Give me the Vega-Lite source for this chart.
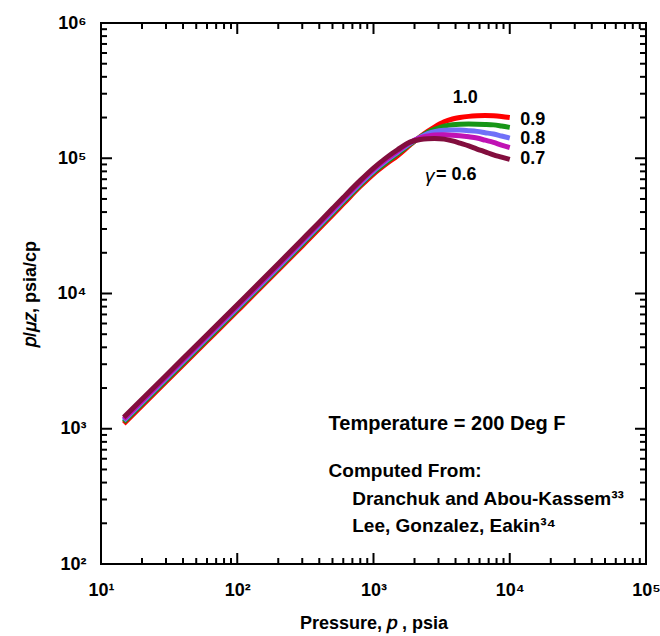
{
"$schema": "https://vega.github.io/schema/vega-lite/v6.json",
"width": 545, "height": 541,
"autosize": {"type": "none"},
"padding": {"left": 101, "top": 23, "right": 14, "bottom": 72},
"background": "white",
"config": {
 "view": {"stroke": "black", "strokeWidth": 2, "fill": null},
 "font": "Liberation Sans",
 "axis": {"ticks": false, "tickSize": 0, "domain": false, "grid": false, "labelFont": "Liberation Sans", "labelFontWeight": "bold", "labelFontSize": 18, "labelColor": "black", "titleFont": "Liberation Sans", "titleFontWeight": "bold", "titleFontSize": 18, "titleColor": "black", "labelOverlap": false, "labelFlush": false}
},
"datasets": {
 "xmaj": [{"t":10},{"t":100},{"t":1000},{"t":10000},{"t":100000}],
 "xmin": [{"t":20},{"t":30},{"t":40},{"t":50},{"t":60},{"t":70},{"t":80},{"t":90},{"t":200},{"t":300},{"t":400},{"t":500},{"t":600},{"t":700},{"t":800},{"t":900},{"t":2000},{"t":3000},{"t":4000},{"t":5000},{"t":6000},{"t":7000},{"t":8000},{"t":9000},{"t":20000},{"t":30000},{"t":40000},{"t":50000},{"t":60000},{"t":70000},{"t":80000},{"t":90000}],
 "ymaj": [{"t":100},{"t":1000},{"t":10000},{"t":100000},{"t":1000000}],
 "ymin": [{"t":200},{"t":300},{"t":400},{"t":500},{"t":600},{"t":700},{"t":800},{"t":900},{"t":2000},{"t":3000},{"t":4000},{"t":5000},{"t":6000},{"t":7000},{"t":8000},{"t":9000},{"t":20000},{"t":30000},{"t":40000},{"t":50000},{"t":60000},{"t":70000},{"t":80000},{"t":90000},{"t":200000},{"t":300000},{"t":400000},{"t":500000},{"t":600000},{"t":700000},{"t":800000},{"t":900000}],
 "curves": [
{"g":"1.0","p":14.7,"v":1090},{"g":"1.0","p":30,"v":2225},{"g":"1.0","p":60,"v":4450},{"g":"1.0","p":100,"v":7420},{"g":"1.0","p":200,"v":14900},{"g":"1.0","p":300,"v":22500},{"g":"1.0","p":400,"v":30200},{"g":"1.0","p":500,"v":38100},{"g":"1.0","p":600,"v":46000},{"g":"1.0","p":800,"v":62000},{"g":"1.0","p":1000,"v":76500},{"g":"1.0","p":1250,"v":91500},{"g":"1.0","p":1500,"v":104500},{"g":"1.0","p":1850,"v":125000},{"g":"1.0","p":2200,"v":144000},{"g":"1.0","p":2500,"v":158000},{"g":"1.0","p":2800,"v":170000},{"g":"1.0","p":3300,"v":186000},{"g":"1.0","p":3800,"v":195000},{"g":"1.0","p":4300,"v":200000},{"g":"1.0","p":5000,"v":204000},{"g":"1.0","p":5750,"v":206000},{"g":"1.0","p":6600,"v":207000},{"g":"1.0","p":7600,"v":206000},{"g":"1.0","p":8700,"v":203500},{"g":"1.0","p":10000,"v":200000},
{"g":"0.9","p":14.7,"v":1120},{"g":"0.9","p":30,"v":2285},{"g":"0.9","p":60,"v":4570},{"g":"0.9","p":100,"v":7620},{"g":"0.9","p":200,"v":15300},{"g":"0.9","p":300,"v":23150},{"g":"0.9","p":400,"v":31100},{"g":"0.9","p":500,"v":39200},{"g":"0.9","p":600,"v":47400},{"g":"0.9","p":800,"v":63600},{"g":"0.9","p":1000,"v":78500},{"g":"0.9","p":1250,"v":94000},{"g":"0.9","p":1500,"v":107800},{"g":"0.9","p":1850,"v":127000},{"g":"0.9","p":2200,"v":143500},{"g":"0.9","p":2500,"v":155000},{"g":"0.9","p":2800,"v":163500},{"g":"0.9","p":3300,"v":173000},{"g":"0.9","p":3800,"v":177000},{"g":"0.9","p":4300,"v":178500},{"g":"0.9","p":5000,"v":179000},{"g":"0.9","p":5750,"v":178700},{"g":"0.9","p":6600,"v":178000},{"g":"0.9","p":7600,"v":176500},{"g":"0.9","p":8700,"v":173000},{"g":"0.9","p":10000,"v":169000},
{"g":"0.8","p":14.7,"v":1150},{"g":"0.8","p":30,"v":2350},{"g":"0.8","p":60,"v":4700},{"g":"0.8","p":100,"v":7830},{"g":"0.8","p":200,"v":15720},{"g":"0.8","p":300,"v":23850},{"g":"0.8","p":400,"v":32000},{"g":"0.8","p":500,"v":40300},{"g":"0.8","p":600,"v":48700},{"g":"0.8","p":800,"v":65200},{"g":"0.8","p":1000,"v":80500},{"g":"0.8","p":1250,"v":96500},{"g":"0.8","p":1500,"v":110500},{"g":"0.8","p":1850,"v":129000},{"g":"0.8","p":2200,"v":143000},{"g":"0.8","p":2500,"v":152000},{"g":"0.8","p":2800,"v":157000},{"g":"0.8","p":3300,"v":161000},{"g":"0.8","p":3800,"v":162000},{"g":"0.8","p":4300,"v":161500},{"g":"0.8","p":5000,"v":160000},{"g":"0.8","p":5750,"v":158000},{"g":"0.8","p":6600,"v":154500},{"g":"0.8","p":7600,"v":151000},{"g":"0.8","p":8700,"v":146000},{"g":"0.8","p":10000,"v":141000},
{"g":"0.7","p":14.7,"v":1182},{"g":"0.7","p":30,"v":2415},{"g":"0.7","p":60,"v":4830},{"g":"0.7","p":100,"v":8050},{"g":"0.7","p":200,"v":16150},{"g":"0.7","p":300,"v":24500},{"g":"0.7","p":400,"v":32900},{"g":"0.7","p":500,"v":41400},{"g":"0.7","p":600,"v":50000},{"g":"0.7","p":800,"v":66900},{"g":"0.7","p":1000,"v":82600},{"g":"0.7","p":1250,"v":99000},{"g":"0.7","p":1500,"v":113000},{"g":"0.7","p":1850,"v":130500},{"g":"0.7","p":2200,"v":141500},{"g":"0.7","p":2500,"v":146000},{"g":"0.7","p":2800,"v":148500},{"g":"0.7","p":3300,"v":149000},{"g":"0.7","p":3800,"v":148000},{"g":"0.7","p":4300,"v":146500},{"g":"0.7","p":5000,"v":144000},{"g":"0.7","p":5750,"v":141000},{"g":"0.7","p":6600,"v":136000},{"g":"0.7","p":7600,"v":131000},{"g":"0.7","p":8700,"v":125000},{"g":"0.7","p":10000,"v":120000},
{"g":"0.6","p":14.7,"v":1215},{"g":"0.6","p":30,"v":2480},{"g":"0.6","p":60,"v":4960},{"g":"0.6","p":100,"v":8270},{"g":"0.6","p":200,"v":16600},{"g":"0.6","p":300,"v":25100},{"g":"0.6","p":400,"v":33700},{"g":"0.6","p":500,"v":42500},{"g":"0.6","p":600,"v":51300},{"g":"0.6","p":800,"v":68600},{"g":"0.6","p":1000,"v":84600},{"g":"0.6","p":1250,"v":101500},{"g":"0.6","p":1500,"v":115500},{"g":"0.6","p":1850,"v":131500},{"g":"0.6","p":2200,"v":137500},{"g":"0.6","p":2500,"v":139500},{"g":"0.6","p":2800,"v":140000},{"g":"0.6","p":3300,"v":138500},{"g":"0.6","p":3800,"v":134500},{"g":"0.6","p":4300,"v":129500},{"g":"0.6","p":5000,"v":123500},{"g":"0.6","p":5750,"v":117000},{"g":"0.6","p":6600,"v":111500},{"g":"0.6","p":7600,"v":106000},{"g":"0.6","p":8700,"v":102000},{"g":"0.6","p":10000,"v":98000}
 ]
},
"layer": [
 {"data": {"name": "curves"},
  "mark": {"type": "line", "strokeWidth": 5, "interpolate": "monotone"},
  "encoding": {
   "x": {"field": "p", "type": "quantitative", "scale": {"type": "log", "domain": [10, 100000], "nice": false},
     "axis": {"orient": "bottom", "values": [10, 100, 1000, 10000, 100000], "labelPadding": 17, "labelExpr": "'10' + ['⁰','¹','²','³','⁴','⁵','⁶'][round(log(datum.value)/LN10)]", "title": "Pressure, 𝑝 , psia", "titlePadding": 15}},
   "y": {"field": "v", "type": "quantitative", "scale": {"type": "log", "domain": [100, 1000000], "nice": false},
     "axis": {"orient": "left", "values": [100, 1000, 10000, 100000, 1000000], "labelPadding": 15, "labelExpr": "'10' + ['⁰','¹','²','³','⁴','⁵','⁶'][round(log(datum.value)/LN10)]", "title": "𝑝/𝜇𝑧, psia/cp", "titlePadding": 18}},
   "color": {"field": "g", "type": "nominal", "legend": null, "sort": null,
     "scale": {"domain": ["1.0", "0.9", "0.8", "0.7", "0.6"], "range": ["#ff0000", "#179617", "#7070f8", "#c012b4", "#820e3e"]}}
  }},
 {"data": {"name": "xmaj"}, "mark": {"type": "tick", "orient": "vertical", "size": 22, "thickness": 2, "color": "black", "opacity": 1, "clip": true},
  "encoding": {"x": {"field": "t", "type": "quantitative"}, "y": {"datum": 100, "type": "quantitative"}}},
 {"data": {"name": "xmaj"}, "mark": {"type": "tick", "orient": "vertical", "size": 22, "thickness": 2, "color": "black", "opacity": 1, "clip": true},
  "encoding": {"x": {"field": "t", "type": "quantitative"}, "y": {"datum": 1000000, "type": "quantitative"}}},
 {"data": {"name": "xmin"}, "mark": {"type": "tick", "orient": "vertical", "size": 12, "thickness": 2, "color": "black", "opacity": 1, "clip": true},
  "encoding": {"x": {"field": "t", "type": "quantitative"}, "y": {"datum": 100, "type": "quantitative"}}},
 {"data": {"name": "xmin"}, "mark": {"type": "tick", "orient": "vertical", "size": 12, "thickness": 2, "color": "black", "opacity": 1, "clip": true},
  "encoding": {"x": {"field": "t", "type": "quantitative"}, "y": {"datum": 1000000, "type": "quantitative"}}},
 {"data": {"name": "ymaj"}, "mark": {"type": "tick", "orient": "horizontal", "size": 22, "thickness": 2, "color": "black", "opacity": 1, "clip": true},
  "encoding": {"y": {"field": "t", "type": "quantitative"}, "x": {"datum": 10, "type": "quantitative"}}},
 {"data": {"name": "ymaj"}, "mark": {"type": "tick", "orient": "horizontal", "size": 22, "thickness": 2, "color": "black", "opacity": 1, "clip": true},
  "encoding": {"y": {"field": "t", "type": "quantitative"}, "x": {"datum": 100000, "type": "quantitative"}}},
 {"data": {"name": "ymin"}, "mark": {"type": "tick", "orient": "horizontal", "size": 12, "thickness": 2, "color": "black", "opacity": 1, "clip": true},
  "encoding": {"y": {"field": "t", "type": "quantitative"}, "x": {"datum": 10, "type": "quantitative"}}},
 {"data": {"name": "ymin"}, "mark": {"type": "tick", "orient": "horizontal", "size": 12, "thickness": 2, "color": "black", "opacity": 1, "clip": true},
  "encoding": {"y": {"field": "t", "type": "quantitative"}, "x": {"datum": 100000, "type": "quantitative"}}},
 {"data": {"values": [{}]},
  "mark": {"type": "text", "text": "1.0", "fontWeight": "bold", "fontSize": 18, "align": "center", "baseline": "middle"},
  "encoding": {"x": {"datum": 4720, "type": "quantitative"}, "y": {"datum": 277000, "type": "quantitative"}}},
 {"data": {"values": [{}]},
  "mark": {"type": "text", "text": "0.9", "fontWeight": "bold", "fontSize": 18, "align": "left", "baseline": "middle"},
  "encoding": {"x": {"datum": 11940, "type": "quantitative"}, "y": {"datum": 193000, "type": "quantitative"}}},
 {"data": {"values": [{}]},
  "mark": {"type": "text", "text": "0.8", "fontWeight": "bold", "fontSize": 18, "align": "left", "baseline": "middle"},
  "encoding": {"x": {"datum": 11940, "type": "quantitative"}, "y": {"datum": 139700, "type": "quantitative"}}},
 {"data": {"values": [{}]},
  "mark": {"type": "text", "text": "0.7", "fontWeight": "bold", "fontSize": 18, "align": "left", "baseline": "middle"},
  "encoding": {"x": {"datum": 11940, "type": "quantitative"}, "y": {"datum": 99500, "type": "quantitative"}}},
 {"data": {"values": [{}]},
  "mark": {"type": "text", "text": "γ", "fontStyle": "italic", "fontSize": 19, "align": "right", "baseline": "middle"},
  "encoding": {"x": {"datum": 2800, "type": "quantitative"}, "y": {"datum": 74000, "type": "quantitative"}}},
 {"data": {"values": [{}]},
  "mark": {"type": "text", "text": "= 0.6", "fontWeight": "bold", "fontSize": 18, "align": "left", "baseline": "middle"},
  "encoding": {"x": {"datum": 2870, "type": "quantitative"}, "y": {"datum": 75500, "type": "quantitative"}}},
 {"data": {"values": [{}]},
  "mark": {"type": "text", "text": "Temperature = 200 Deg F", "fontWeight": "bold", "fontSize": 20, "align": "left", "baseline": "middle"},
  "encoding": {"x": {"datum": 468, "type": "quantitative"}, "y": {"datum": 1084, "type": "quantitative"}}},
 {"data": {"values": [{}]},
  "mark": {"type": "text", "text": "Computed From:", "fontWeight": "bold", "fontSize": 19, "align": "left", "baseline": "middle"},
  "encoding": {"x": {"datum": 468, "type": "quantitative"}, "y": {"datum": 491, "type": "quantitative"}}},
 {"data": {"values": [{}]},
  "mark": {"type": "text", "text": "Dranchuk and Abou-Kassem³³", "fontWeight": "bold", "fontSize": 19, "align": "left", "baseline": "middle"},
  "encoding": {"x": {"datum": 698, "type": "quantitative"}, "y": {"datum": 300, "type": "quantitative"}}},
 {"data": {"values": [{}]},
  "mark": {"type": "text", "text": "Lee, Gonzalez, Eakin³⁴", "fontWeight": "bold", "fontSize": 19, "align": "left", "baseline": "middle"},
  "encoding": {"x": {"datum": 698, "type": "quantitative"}, "y": {"datum": 191, "type": "quantitative"}}}
]
}
